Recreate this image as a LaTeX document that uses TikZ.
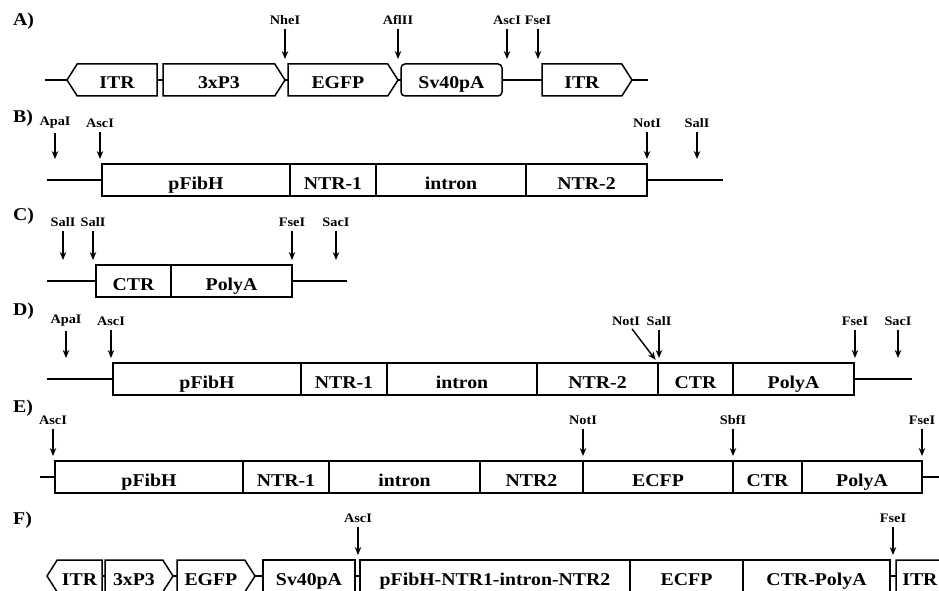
\documentclass[tikz,border=0pt]{standalone}
\usepackage{fontspec}
\setmainfont{Liberation Serif}[FakeStretch=1.1]
\usetikzlibrary{shapes.symbols, arrows.meta}

\tikzset{
  seg/.style={draw, fill=white, line width=1.5pt, minimum height=32pt,
    inner sep=0pt, outer sep=0pt, text height=18pt, text depth=0pt,
    anchor=west, font=\bfseries\fontsize{18}{18}\selectfont},
  fwd/.style={seg, signal, signal to=east, signal pointer angle=115},
  rev/.style={seg, signal, signal to=west, signal pointer angle=115},
  dna/.style={line width=1.5pt},
  site/.style={font=\bfseries\fontsize{13}{13}\selectfont, inner sep=1pt},
  cut/.style={-{Stealth[length=8pt,width=6.5pt]}, line width=1.4pt,
    shorten >=5pt, shorten <=3pt},
  row/.style={font=\bfseries\fontsize{18}{18}\selectfont, anchor=west, inner sep=0pt}
}

\begin{document}
\begin{tikzpicture}[x=1pt, y=-1pt]
    \useasboundingbox (0,0) rectangle (939,591);
    \clip (0,0) rectangle (939,591);
    % Row labels
    \node[row] (la) at (13,21) {A)};
    \node[row] (lb) at (13,118) {B)};
    \node[row] (lc) at (13,216) {C)};
    \node[row] (ld) at (13,311) {D)};
    \node[row] (le) at (13,408) {E)};
    \node[row] (lf) at (13,520) {F)};
    % A) donor cassette
    \coordinate (Al) at (45,80);
    \coordinate (Ar) at (648,80);
    \draw[dna] (Al) -- (Ar);
    \node[rev, minimum width=90pt] (a1) at (67,80) {ITR};
    \node[fwd, minimum width=122pt] (a2) at (163,80) {3xP3};
    \node[fwd, minimum width=110pt] (a3) at (288,80) {EGFP};
    \node[seg, rounded corners=4pt, minimum width=101pt] (a4) at (401,80) {Sv40pA};
    \node[fwd, minimum width=90pt] (a5) at (542,80) {ITR};
    \foreach \x/\t [count=\i] in {285/NheI, 398/AflII, 507/AscI, 538/FseI} {
      \node[site] (sa\i) at (\x,20) {\t};
      \draw[cut] (sa\i) -- (sa\i |- a1.north);
    }
    % B) N-terminal part
    \coordinate (Bl) at (47,180);
    \coordinate (Br) at (723,180);
    \draw[dna] (Bl) -- (Br);
    \node[seg, minimum width=188pt] (b1) at (102,180) {pFibH};
    \node[seg, minimum width=86pt] (b2) at (b1.east) {NTR-1};
    \node[seg, minimum width=150pt] (b3) at (b2.east) {intron};
    \node[seg, minimum width=121pt] (b4) at (b3.east) {NTR-2};
    \foreach \x/\t [count=\i] in {55/ApaI, 100/AscI, 647/NotI, 697/SalI} {
      \node[site] (sb\i) at (\x,123) {\t};
      \draw[cut] (sb\i) -- (sb\i |- b1.north);
    }
    % C) C-terminal part
    \coordinate (Cl) at (47,281);
    \coordinate (Cr) at (347,281);
    \draw[dna] (Cl) -- (Cr);
    \node[seg, minimum width=75pt] (c1) at (96,281) {CTR};
    \node[seg, minimum width=121pt] (c2) at (c1.east) {PolyA};
    \foreach \x/\t [count=\i] in {63/SalI, 93/SalI, 292/FseI, 336/SacI} {
      \node[site] (sc\i) at (\x,222) {\t};
      \draw[cut] (sc\i) -- (sc\i |- c1.north);
    }
    % D) joined fibroin minigene
    \coordinate (Dl) at (47,379);
    \coordinate (Dr) at (912,379);
    \draw[dna] (Dl) -- (Dr);
    \node[seg, minimum width=188pt] (d1) at (113,379) {pFibH};
    \node[seg, minimum width=86pt] (d2) at (d1.east) {NTR-1};
    \node[seg, minimum width=150pt] (d3) at (d2.east) {intron};
    \node[seg, minimum width=121pt] (d4) at (d3.east) {NTR-2};
    \node[seg, minimum width=75pt] (d5) at (d4.east) {CTR};
    \node[seg, minimum width=121pt] (d6) at (d5.east) {PolyA};
    \foreach \x/\t [count=\i] in {66/ApaI, 111/AscI, 659/SalI, 855/FseI, 898/SacI} {
      \node[site] (sd\i) at (\x,321) {\t};
      \draw[cut] (sd\i) -- (sd\i |- d1.north);
    }
    \node[site] (sdn) at (626,321) {NotI};
    \draw[cut, shorten >=4pt] (sdn) -- (d4.north east);
    % E) minigene with ECFP
    \coordinate (El) at (40,477);
    \coordinate (Er) at (939,477);
    \draw[dna] (El) -- (Er);
    \node[seg, minimum width=188pt] (e1) at (55,477) {pFibH};
    \node[seg, minimum width=86pt] (e2) at (e1.east) {NTR-1};
    \node[seg, minimum width=151pt] (e3) at (e2.east) {intron};
    \node[seg, minimum width=103pt] (e4) at (e3.east) {NTR2};
    \node[seg, minimum width=150pt] (e5) at (e4.east) {ECFP};
    \node[seg, minimum width=69pt] (e6) at (e5.east) {CTR};
    \node[seg, minimum width=120pt] (e7) at (e6.east) {PolyA};
    \foreach \x/\t [count=\i] in {53/AscI, 583/NotI, 733/SbfI, 922/FseI} {
      \node[site] (se\i) at (\x,420) {\t};
      \draw[cut] (se\i) -- (se\i |- e1.north);
    }
    % F) final transposon
    \coordinate (Fl) at (47,576);
    \coordinate (Fr) at (939,576);
    \draw[dna] (Fl) -- (Fr);
    \node[rev, minimum width=55pt] (f1) at (47,576) {ITR};
    \node[fwd, minimum width=68pt] (f2) at (105,576) {3xP3};
    \node[fwd, minimum width=78pt] (f3) at (177,576) {EGFP};
    \node[seg, minimum width=92pt] (f4) at (263,576) {Sv40pA};
    \node[seg, minimum width=270pt] (f5) at (360,576) {pFibH-NTR1-intron-NTR2};
    \node[seg, minimum width=113pt] (f6) at (f5.east) {ECFP};
    \node[seg, minimum width=147pt] (f7) at (f6.east) {CTR-PolyA};
    \node[fwd, minimum width=58pt] (f8) at (896,576) {ITR};
    \foreach \x/\t [count=\i] in {358/AscI, 893/FseI} {
      \node[site] (sf\i) at (\x,518) {\t};
      \draw[cut] (sf\i) -- (sf\i |- f4.north);
    }
\end{tikzpicture}
\end{document}
